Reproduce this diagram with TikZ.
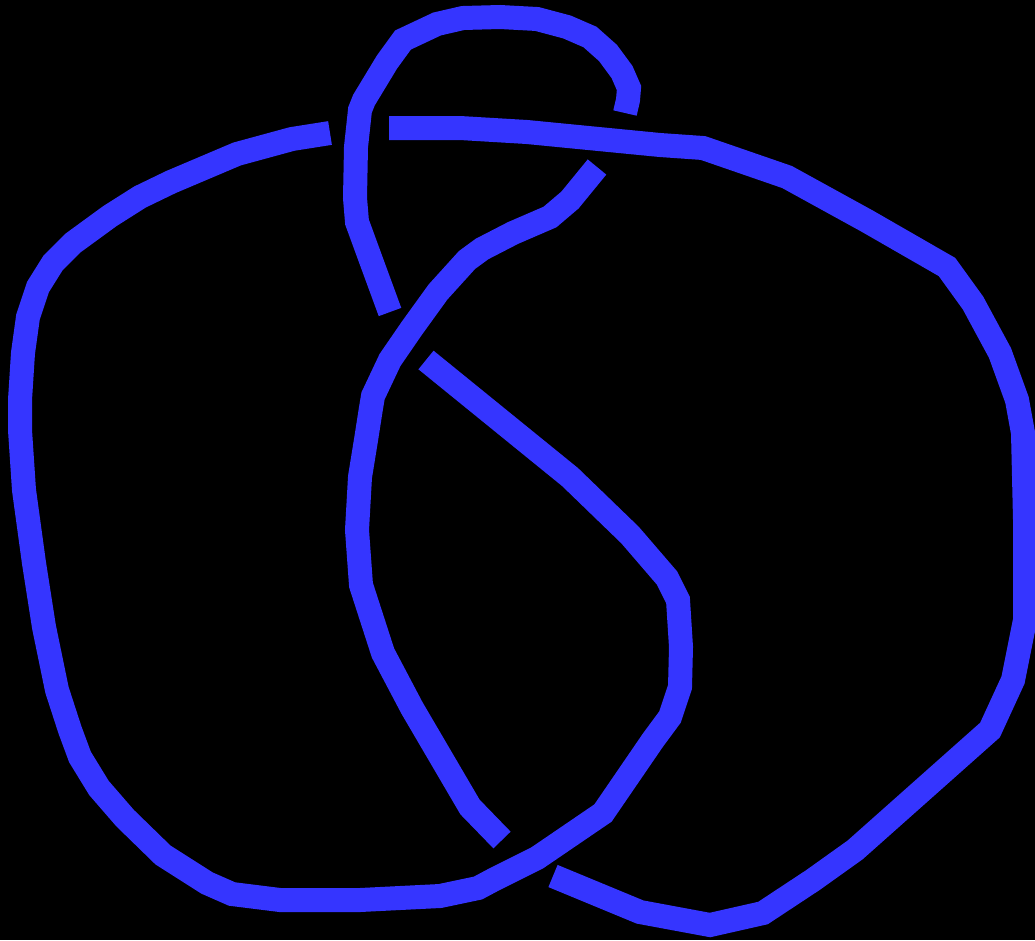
\documentclass[tikz,border=0pt]{standalone}
\usepackage{tikz}
\definecolor{knotblue}{HTML}{3535FF}
\begin{document}
\begin{tikzpicture}[x=1pt,y=-1pt,
  strand/.style={draw=knotblue,line width=24pt,line join=miter,line cap=butt}]
\fill[black] (0,0) rectangle (1035,940);
\useasboundingbox (0,0) rectangle (1035,940);
% strand A
\draw[strand] (389,128) -- (460,128) -- (527,132) -- (660,145) -- (703,148) -- (787,177) -- (867,221) -- (947,267) -- (973,303) -- (1000,353) -- (1017,400) -- (1023,433) -- (1025,520) -- (1025,620) -- (1013,680) -- (990,730) -- (855,850) -- (813,880) -- (763,913) -- (710,925) -- (640,912) -- (553,876);
% strand B
\draw[strand] (426,360) -- (570,477) -- (630,535) -- (667,578) -- (678,600) -- (681,647) -- (680,687) -- (670,717) -- (653,740) -- (603,813) -- (537,858) -- (493,880) -- (478,888) -- (440,896) -- (360,900) -- (280,900) -- (232,894) -- (207,883) -- (163,855) -- (125,818) -- (99,788) -- (80,757) -- (70,730) -- (57,690) -- (44,627) -- (34,563) -- (24,490) -- (20,430) -- (20,400) -- (23,353) -- (28,317) -- (38,287) -- (53,263) -- (73,243) -- (110,216) -- (140,197) -- (171,182) -- (237,154) -- (292,139) -- (330,133);
% strand C
\draw[strand] (597,167) -- (570,200) -- (550,217) -- (513,233) -- (482,249) -- (467,260) -- (438,292) -- (412,328) -- (390,360) -- (373,396) -- (371,408) -- (366,440) -- (360,477) -- (357,530) -- (361,585) -- (383,653) -- (412,708) -- (470,807) -- (502,840);
% strand D
\draw[strand] (390,312) -- (372,263) -- (357,222) -- (355,198) -- (356,147) -- (360,110) -- (364,100) -- (387,62) -- (403,40) -- (437,24) -- (463,18) -- (500,17) -- (537,19) -- (567,27) -- (590,37) -- (608,53) -- (622,72) -- (629,88) -- (628,100) -- (625,113);
\end{tikzpicture}
\end{document}
